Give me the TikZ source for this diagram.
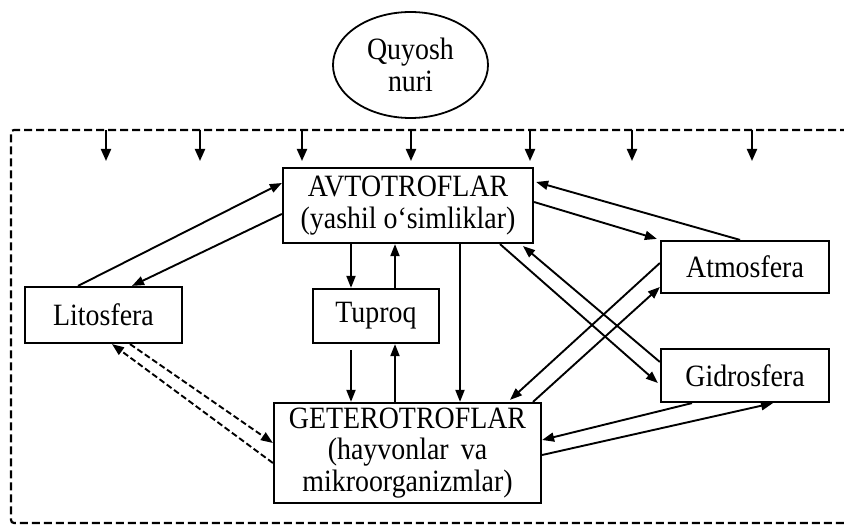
\documentclass[tikz,border=0pt]{standalone}
\usepackage{fontspec}
\setmainfont{Liberation Serif}[FakeStretch=0.9]
\usetikzlibrary{arrows.meta,shapes.geometric}
\begin{document}
\begin{tikzpicture}[x=1pt,y=-1pt,
  box/.style={draw,line width=2.2pt,inner sep=0pt,align=center,font=\fontsize{31}{31.5}\selectfont},
  conn/.style={line width=1.9pt,-{Triangle[length=12pt,width=9pt]}},
  dconn/.style={conn,dash pattern=on 6pt off 3pt},
  sun/.style={line width=2pt,-{Triangle[length=12pt,width=10pt]}},
  frame/.style={line width=2.2pt,dash pattern=on 8pt off 4pt,rounded corners=3pt}]
\useasboundingbox (0,0) rectangle (844,526);
\node[draw,ellipse,line width=1.8pt,minimum width=155pt,minimum height=106pt,inner sep=0pt,align=center,font=\fontsize{31}{32}\selectfont] (sunnode) at (410.5,65) {Quyosh\\nuri};
\draw[frame] (860,130) -- (11,130) -- (11,523) -- (860,523);
\foreach \i/\x in {1/106,2/200,3/302,4/411,5/530,6/632,7/752}{
  \coordinate (s\i) at (\x,130);
  \coordinate (e\i) at (\x,161);
  \draw[sun] (s\i) -- (e\i);
}
\node[box,minimum width=250pt,minimum height=75pt] (avto) at (408,205.5) {AVTOTROFLAR\\(yashil o‘simliklar)};
\node[box,minimum width=157pt,minimum height=56pt] (lito) at (103.5,315) {Litosfera};
\node[box,minimum width=126pt,minimum height=54pt] (tup) at (376,316) {Tuproq};
\node[box,minimum width=168pt,minimum height=52pt] (atm) at (745,267) {Atmosfera};
\node[box,minimum width=168pt,minimum height=53pt] (gid) at (745,375.5) {Gidrosfera};
\node[box,minimum width=267pt,minimum height=100pt] (get) at (407.5,453) {GETEROTROFLAR\\(hayvonlar\, va\\mikroorganizmlar)};
% Litosfera <-> Avtotroflar
\draw[conn] ([xshift=-25.5pt]lito.north) -- ([yshift=22.5pt]avto.west);
\draw[conn] ([yshift=-8.5pt]avto.west) -- ([xshift=28.5pt]lito.north);
% Avtotroflar <-> Tuproq
\draw[conn] ([xshift=-25pt]tup.north |- avto.south) -- ([xshift=-25pt]tup.north);
\draw[conn] ([xshift=19pt]tup.north) -- ([xshift=19pt]tup.north |- avto.south);
% Tuproq <-> Geterotroflar
\draw[conn] ([xshift=-25pt,yshift=-6pt]tup.south) -- ([xshift=-25pt]tup.south |- get.north);
\draw[conn] ([xshift=19pt]tup.south |- get.north) -- ([xshift=19pt]tup.south);
% Avtotroflar -> Geterotroflar
\draw[conn] ([xshift=52pt]avto.south) -- ([xshift=52pt]avto.south |- get.north);
% Avtotroflar <-> Atmosfera
\draw[conn] ([yshift=3.5pt]avto.east) -- ([xshift=-3pt,yshift=1pt]atm.north west);
\draw[conn] ([xshift=-5pt]atm.north) -- ([xshift=2pt,yshift=23.5pt]avto.east);
% Avtotroflar <-> Gidrosfera
\draw[conn] ([xshift=92pt]avto.south) -- ([xshift=-2pt,yshift=-7.5pt]gid.west);
\draw[conn] ([yshift=13.5pt]gid.west) -- ([xshift=115pt,yshift=-2pt]avto.south);
% Atmosfera <-> Geterotroflar
\draw[conn] ([yshift=4pt]atm.west) -- ([xshift=102.5pt,yshift=2pt]get.north);
\draw[conn] ([xshift=125.5pt]get.north) -- ([yshift=-20pt]atm.west);
% Gidrosfera <-> Geterotroflar
\draw[conn] ([xshift=-53pt]gid.south) -- ([yshift=13pt]get.east);
\draw[conn] ([yshift=-2pt]get.east) -- ([xshift=28pt]gid.south);
% Litosfera <-> Geterotroflar (dashed)
\draw[dconn] ([yshift=-10pt]get.west) -- ([xshift=8.5pt]lito.south);
\draw[dconn] ([xshift=26.5pt]lito.south) -- ([yshift=10pt]get.west);
\end{tikzpicture}
\end{document}
